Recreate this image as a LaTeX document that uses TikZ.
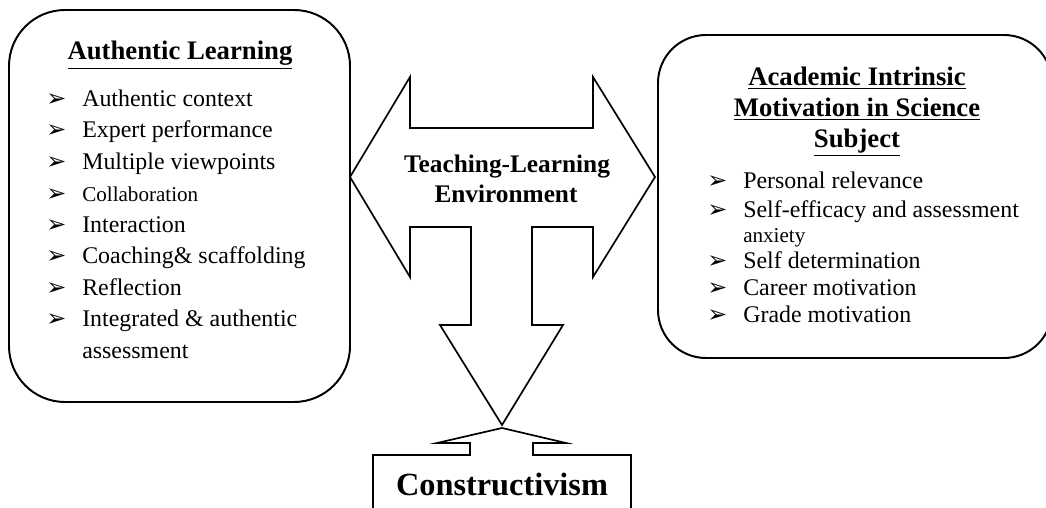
\documentclass[tikz,border=0pt]{standalone}
\usepackage{fontspec}
\setmainfont{Liberation Serif}
\newfontfamily\dingfont{DejaVu Sans}
\newcommand{\pointer}{➢}

\begin{document}
\begin{tikzpicture}[x=0.25mm, y=-0.25mm,
	box/.style={line width=1.4pt},
	outline/.style={line width=1.2pt, line join=miter},
	head/.style={anchor=base, inner sep=0pt, font=\bfseries\fontsize{19}{22}\selectfont},
	item/.style={anchor=base west, inner sep=0pt, font=\fontsize{17}{22}\selectfont},
	smallitem/.style={anchor=base west, inner sep=0pt, font=\fontsize{15}{18}\selectfont},
	pointer/.style={anchor=base west, inner sep=0pt, font=\dingfont\fontsize{17}{17}\selectfont}]
	\useasboundingbox (0,0) rectangle (1046,508);
	% the two rounded boxes
	\draw[box, rounded corners = 14mm] (9,10) rectangle (350,402);
	\draw[box, rounded corners = 12mm] (658,35) rectangle (1052,358);
	% double arrow with the stem going down
	\draw[outline] (350,177) -- (410,77) -- (410,128) -- (593,128) -- (593,77) -- (655,177)
		-- (593,277) -- (593,227) -- (532,227) -- (532,325) -- (563,325) -- (502,425)
		-- (440,325) -- (471,325) -- (471,227) -- (410,227) -- (410,277) -- cycle;
	% up arrow on top of the bottom box
	\draw[outline] (502,428) -- (566,443) -- (533,443) -- (533,455) -- (631,455) -- (631,512)
		-- (373,512) -- (373,455) -- (470,455) -- (470,443) -- (437,443) -- cycle;
%
	\node[head] (tle1) at (507,173) {\fontsize{18}{20}\selectfont Teaching-Learning};
	\node[head] (tle2) at (506,202) {\fontsize{18}{20}\selectfont Environment};
	\node[head] (cons) at (502,495) {\fontsize{23}{26}\selectfont Constructivism};
%
	\node[head] (alhead) at (180,60) {\underline{Authentic Learning}};
	\node[pointer] (alb1) at (46,107) {\pointer};
	\node[item] (al1) at (82,107) {Authentic context};
	\node[pointer] (alb2) at (46,138) {\pointer};
	\node[item] (al2) at (82,138) {Expert performance};
	\node[pointer] (alb3) at (46,170) {\pointer};
	\node[item] (al3) at (82,170) {Multiple viewpoints};
	\node[pointer] (alb4) at (46,201) {\pointer};
	\node[smallitem] (al4) at (82,201) {Collaboration};
	\node[pointer] (alb5) at (46,232) {\pointer};
	\node[item] (al5) at (82,232) {Interaction};
	\node[pointer] (alb6) at (46,263) {\pointer};
	\node[item] (al6) at (82,263) {Coaching\& scaffolding};
	\node[pointer] (alb7) at (46,295) {\pointer};
	\node[item] (al7) at (82,295) {Reflection};
	\node[pointer] (alb8) at (46,326) {\pointer};
	\node[item] (al8) at (82,326) {Integrated \& authentic};
	\node[item] (al8b) at (82,358) {assessment};
%
	\node[head] (aihead1) at (857,86) {\underline{Academic Intrinsic}};
	\node[head] (aihead2) at (857,117) {\underline{Motivation in Science}};
	\node[head] (aihead3) at (857,148) {\underline{Subject}};
	\node[pointer] (aib1) at (707,188) {\pointer};
	\node[item] (ai1) at (743,188) {Personal relevance};
	\node[pointer] (aib2) at (707,217) {\pointer};
	\node[item] (ai2) at (743,217) {Self-efficacy and assessment};
	\node[smallitem] (ai2b) at (743,242) {anxiety};
	\node[pointer] (aib3) at (707,268) {\pointer};
	\node[item] (ai3) at (743,268) {Self determination};
	\node[pointer] (aib4) at (707,295) {\pointer};
	\node[item] (ai4) at (743,295) {Career motivation};
	\node[pointer] (aib5) at (707,322) {\pointer};
	\node[item] (ai5) at (743,322) {Grade motivation};
\end{tikzpicture}
\end{document}
